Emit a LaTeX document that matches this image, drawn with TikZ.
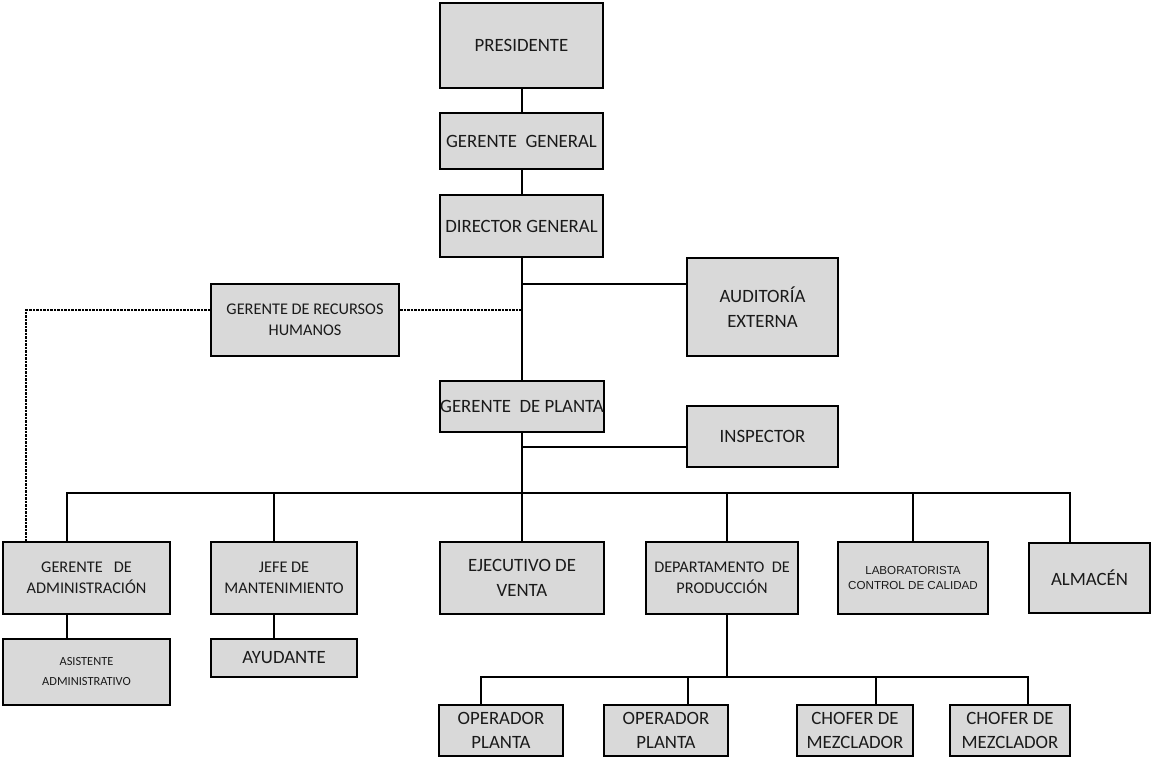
\documentclass[tikz,border=0pt]{standalone}
\usepackage{fontspec}
\setmainfont{Carlito}
\newfontfamily\arialf{Liberation Sans}
\definecolor{boxgray}{HTML}{D9D9D9}
\definecolor{txt}{HTML}{1A1A1A}
\begin{document}
\begin{tikzpicture}[x=1pt,y=-1pt]
\tikzset{
  box/.style={draw=black, fill=boxgray, line width=2pt, inner sep=0pt, align=center, text=txt},
  big/.style={font=\fontsize{18.8}{25}\selectfont},
  bigop/.style={font=\fontsize{18.8}{24}\selectfont},
  mid/.style={font=\fontsize{16.3}{20.5}\selectfont},
  small/.style={font=\fontsize{12.4}{20}\selectfont},
  labf/.style={font=\arialf\fontsize{11.6}{15}\selectfont},
  conn/.style={line width=2pt, line join=miter, line cap=rect},
  dotline/.style={line width=1.4pt, draw=black, dash pattern=on 2.5pt off 1pt}
}
\useasboundingbox (0,0) rectangle (1151,759);
% nodes
\node[box,big,minimum width=163pt,minimum height=85pt] (pres) at (521.5,45.5) {PRESIDENTE};
\node[box,big,minimum width=163pt,minimum height=56pt] (gg) at (521.5,141) {GERENTE\ \ GENERAL};
\node[box,big,minimum width=163pt,minimum height=62pt] (dg) at (521.5,226) {DIRECTOR GENERAL};
\node[box,mid,minimum width=188pt,minimum height=72pt] (rrhh) at (305,320) {GERENTE DE RECURSOS\\HUMANOS};
\node[box,big,minimum width=151pt,minimum height=98pt] (aud) at (762.5,307) {AUDITORÍA\\EXTERNA};
\node[box,big,minimum width=164pt,minimum height=51pt] (gp) at (522,406.5) {GERENTE\ \ DE PLANTA};
\node[box,big,minimum width=151pt,minimum height=61pt] (insp) at (762.5,436.5) {INSPECTOR};
\node[box,mid,minimum width=167pt,minimum height=72pt] (gadm) at (86.5,578) {GERENTE\ \ \ DE\\ADMINISTRACIÓN};
\node[box,small,minimum width=167pt,minimum height=66pt] (asis) at (86.5,672) {ASISTENTE\\ADMINISTRATIVO};
\node[box,mid,minimum width=146pt,minimum height=72pt] (jefe) at (284,578) {JEFE DE\\MANTENIMIENTO};
\node[box,big,minimum width=146pt,minimum height=38pt] (ayud) at (284,658) {AYUDANTE};
\node[box,big,minimum width=164pt,minimum height=72pt] (ejec) at (522,578) {EJECUTIVO DE\\VENTA};
\node[box,mid,minimum width=152pt,minimum height=72pt] (dept) at (722,578) {DEPARTAMENTO\ \ DE\\PRODUCCIÓN};
\node[box,labf,minimum width=150pt,minimum height=72pt] (lab) at (913,578) {LABORATORISTA\\CONTROL DE CALIDAD};
\node[box,big,minimum width=121pt,minimum height=70pt] (alm) at (1089.5,578) {ALMACÉN};
\node[box,bigop,minimum width=124pt,minimum height=51pt] (op1) at (501,730.5) {OPERADOR\\PLANTA};
\node[box,bigop,minimum width=124pt,minimum height=51pt] (op2) at (666,730.5) {OPERADOR\\PLANTA};
\node[box,bigop,minimum width=116pt,minimum height=51pt] (ch1) at (855,730.5) {CHOFER DE\\MEZCLADOR};
\node[box,bigop,minimum width=120pt,minimum height=51pt] (ch2) at (1010,730.5) {CHOFER DE\\MEZCLADOR};
% coordinates
\coordinate (ja) at (522,284);
\coordinate (ji) at (522,447);
\coordinate (hr) at (522,310);
\coordinate (hl) at (26,310);
\coordinate (d1) at (67,493);
\coordinate (d2) at (274,493);
\coordinate (d3) at (522,493);
\coordinate (d4) at (727,493);
\coordinate (d5) at (913,493);
\coordinate (d6) at (1070,493);
\coordinate (e1) at (481,677);
\coordinate (e2) at (688,677);
\coordinate (e3) at (876,677);
\coordinate (e4) at (1028,677);
\coordinate (e0) at (727,677);
% connectors
\draw[conn] (pres) -- (gg);
\draw[conn] (gg) -- (dg);
\draw[conn] (dg.south) -- (dg.south |- gp.north);
\draw[conn] (ja) -- (ja -| aud.west);
\draw[conn] (gp.south) -- (d3);
\draw[conn] (ji) -- (ji -| insp.west);
\draw[conn] (d1 |- gadm.north) -- (d1) -- (d6) -- (d6 |- alm.north);
\draw[conn] (d2) -- (d2 |- jefe.north);
\draw[conn] (d3) -- (d3 |- ejec.north);
\draw[conn] (d4) -- (d4 |- dept.north);
\draw[conn] (d5) -- (d5 |- lab.north);
\draw[conn] (d1 |- gadm.south) -- (d1 |- asis.north);
\draw[conn] (d2 |- jefe.south) -- (d2 |- ayud.north);
\draw[conn] (d4 |- dept.south) -- (e0);
\draw[conn] (e1 |- op1.north) -- (e1) -- (e4) -- (e4 |- ch2.north);
\draw[conn] (e2) -- (e2 |- op2.north);
\draw[conn] (e3) -- (e3 |- ch1.north);
\draw[dotline] (hr -| rrhh.east) -- (hr);
\draw[dotline] (hl -| rrhh.west) -- (hl) -- (hl |- gadm.north);
\end{tikzpicture}
\end{document}
